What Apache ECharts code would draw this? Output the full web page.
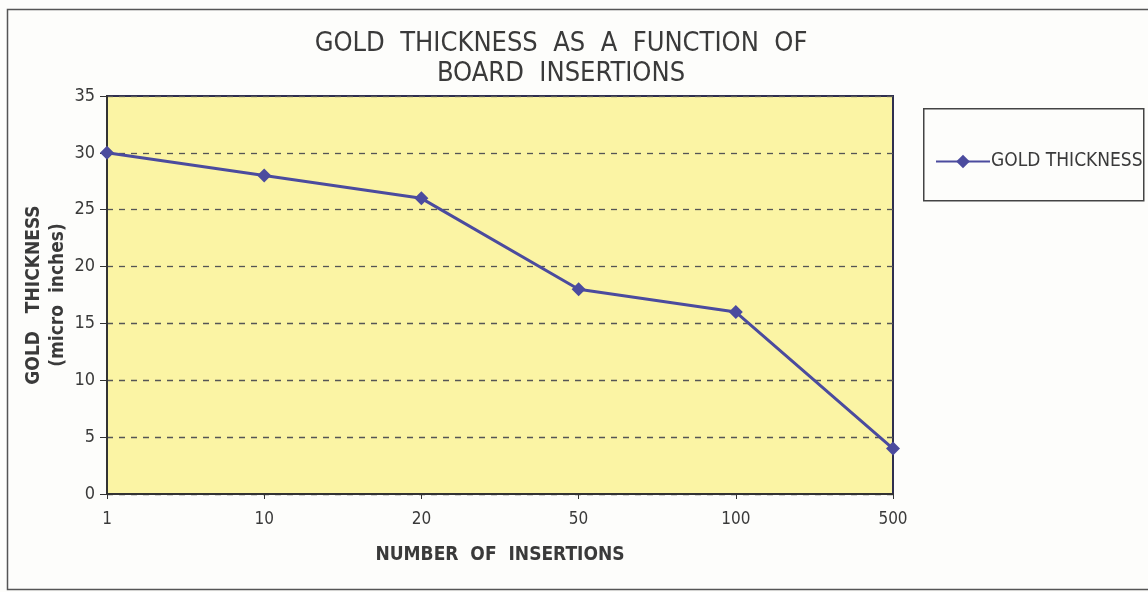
<!DOCTYPE html>
<html>
<head>
<meta charset="utf-8">
<script src="https://cdn.jsdelivr.net/npm/echarts@6/dist/echarts.min.js"></script>
<style>
html,body{margin:0;padding:0;background:#fdfdfb;}
#c{width:1148px;height:592px;}
</style>
</head>
<body>
<div id="c"></div>
<script>
const categories = ['1', '10', '20', '50', '100', '500'];
const goldThickness = [30, 28, 26, 18, 16, 4];
const seriesName = 'GOLD THICKNESS';
const titleText = 'GOLD  THICKNESS  AS  A  FUNCTION  OF\nBOARD  INSERTIONS';
const xName = 'NUMBER  OF  INSERTIONS';
const yName = 'GOLD   THICKNESS\n(micro  inches)';

const FONT = "'Liberation Sans Narrow', 'DejaVu Sans Condensed', 'Liberation Sans', sans-serif";
const chart = echarts.init(document.getElementById('c'), null, {renderer: 'canvas'});
chart.setOption({
  backgroundColor: '#fdfdfb',
  animation: false,
  title: {
    text: titleText,
    left: 556, top: 24, textAlign: 'center',
    textStyle: {fontFamily: FONT, fontSize: 27, fontWeight: 'normal', color: '#3a3a3a', lineHeight: 30}
  },
  graphic: [
    {type: 'rect', left: 5, top: 7, shape: {width: 1150, height: 580},
     style: {fill: 'none', stroke: '#555', lineWidth: 1.5}, silent: true},
    {type: 'rect', left: 923, top: 108, shape: {width: 220, height: 92},
     style: {fill: '#fdfdfb', stroke: '#444', lineWidth: 1.5}, silent: true, z: 0}
  ],
  legend: {
    left: 930, top: 147,
    itemWidth: 54, itemHeight: 17, itemGap: 4,
    data: [seriesName],
    textStyle: {fontFamily: FONT, fontSize: 19, color: '#3a3a3a', padding: [0,0,0,-4]},
    z: 5
  },
  grid: {left: 107, right: 255, top: 96, bottom: 98, show: true,
         backgroundColor: '#fbf4a4', borderColor: '#2f2f4f', borderWidth: 2},
  xAxis: {
    type: 'category', data: categories, boundaryGap: false,
    name: xName, nameLocation: 'middle', nameGap: 52,
    nameTextStyle: {fontFamily: FONT, fontSize: 19, fontWeight: 'bold', color: '#3a3a3a'},
    axisLine: {lineStyle: {color: '#333', width: 2}},
    axisTick: {show: true, length: 5, lineStyle: {color: '#333'}},
    axisLabel: {fontFamily: FONT, fontSize: 17, color: '#3a3a3a', margin: 17},
    splitLine: {show: false}
  },
  yAxis: {
    type: 'value', min: 0, max: 35, interval: 5,
    name: yName, nameLocation: 'middle', nameGap: 37, nameRotate: 90, nameMoveOverlap: false,
    nameTextStyle: {fontFamily: FONT, fontSize: 19, fontWeight: 'bold', color: '#3a3a3a', lineHeight: 24},
    axisLine: {show: true, lineStyle: {color: '#333', width: 2}},
    axisTick: {show: true, length: 7, lineStyle: {color: '#333'}},
    axisLabel: {fontFamily: FONT, fontSize: 18, color: '#3a3a3a', margin: 12},
    splitLine: {show: true, lineStyle: {color: '#555', type: [6, 6], width: 1.3}}
  },
  series: [{
    name: seriesName, type: 'line', data: goldThickness,
    symbol: 'diamond', symbolSize: 14,
    lineStyle: {color: '#4b4b9e', width: 3},
    itemStyle: {color: '#4b4b9e'},
    z: 3
  }]
});
</script>
</body>
</html>
